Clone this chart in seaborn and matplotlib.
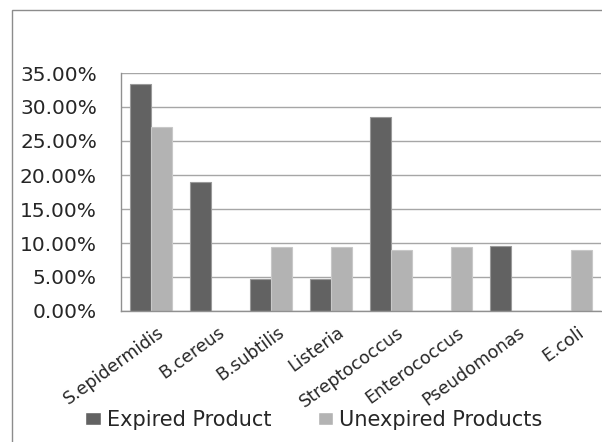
import matplotlib
matplotlib.use("Agg")
import matplotlib.pyplot as plt
import matplotlib.transforms as mtransforms
import seaborn as sns
import pandas as pd
from matplotlib.patches import Rectangle
from matplotlib.ticker import FuncFormatter, MultipleLocator

categories = ["S.epidermidis", "B.cereus", "B.subtilis", "Listeria",
              "Streptococcus", "Enterococcus", "Pseudomonas", "E.coli"]
expired = [33.33, 19.0, 4.7, 4.7, 28.5, 0.0, 9.5, 0.0]
unexpired = [27.1, 0.0, 9.45, 9.45, 9.0, 9.45, 0.0, 9.0]
series_names = ["Expired Product", "Unexpired Products"]

rows = []
for c, e, u in zip(categories, expired, unexpired):
    rows.append({"cat": c, "series": series_names[0], "val": e / 100})
    rows.append({"cat": c, "series": series_names[1], "val": u / 100})
df = pd.DataFrame(rows)

sns.set_theme(style="white")
plt.rcParams['font.family'] = ['DejaVu Sans']

fig = plt.figure(figsize=(6.02, 4.42), dpi=100)
ax = fig.add_axes([121/602, 1 - 311/442, 480/602, (311 - 73)/442])

palette = {series_names[0]: "#626262", series_names[1]: "#b3b3b3"}
sns.barplot(data=df, x="cat", y="val", hue="series", palette=palette,
            order=categories, hue_order=series_names, width=0.7,
            saturation=1, ax=ax, legend=True)

# adjust bar widths (slight overlap like Excel)
for p in ax.patches:
    if p.get_width() == 0:
        continue
    cx = p.get_x() + p.get_width() / 2
    w = 0.36
    p.set_x(cx - w / 2)
    p.set_width(w)
    p.set_edgecolor("#9a9a9a" if p.get_facecolor()[0] < 0.5 else "#c8c8c8")
    p.set_linewidth(0.8)

ax.set_xlim(-0.5, 7.5)
ax.set_ylim(0, 0.35)
ax.yaxis.set_major_locator(MultipleLocator(0.05))
ax.yaxis.set_major_formatter(FuncFormatter(lambda v, _: f"{v*100:.2f}%"))
ax.grid(axis="y", color="#a6a6a6", linewidth=1.0)
ax.set_axisbelow(True)
ax.set_xlabel("")
ax.set_ylabel("")

for s in ["top", "right"]:
    ax.spines[s].set_visible(False)
for s in ["left", "bottom"]:
    ax.spines[s].set_color("#909090")
    ax.spines[s].set_linewidth(1.0)

ax.tick_params(axis="y", length=0, pad=17.3, labelsize=14.5, labelcolor="#262626")
ax.tick_params(axis="x", length=0, pad=9, labelsize=12.5, labelcolor="#262626")
plt.setp(ax.get_xticklabels(), rotation=36, ha="right", va="top",
         rotation_mode="anchor")
shift = mtransforms.ScaledTranslation(6/100, 0, fig.dpi_scale_trans)
for lab in ax.get_xticklabels():
    lab.set_transform(lab.get_transform() + shift)

leg = ax.get_legend()
handles = leg.legend_handles
leg.remove()
fig.legend(handles, series_names, loc="center",
           bbox_to_anchor=(314/602, 1 - 420/442), ncol=2, frameon=False,
           fontsize=15, handlelength=0.75, handleheight=0.55,
           handletextpad=0.3, columnspacing=2.2, labelcolor="#262626")

# outer chart border
fig.patches.append(Rectangle((12/602, -0.1), 1.2, 1 - 10/442 + 0.1,
                             transform=fig.transFigure, fill=False,
                             edgecolor="#8c8c8c", linewidth=1.0))

fig.savefig("out.png", dpi=100)
